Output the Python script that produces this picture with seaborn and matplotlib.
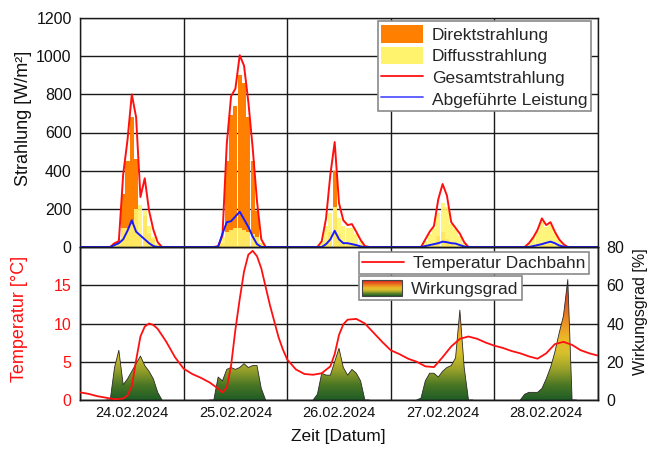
import numpy as np
import matplotlib
matplotlib.use("Agg")
import matplotlib.pyplot as plt
import seaborn as sns
from matplotlib.colors import LinearSegmentedColormap
from matplotlib.patches import Rectangle, Patch
from matplotlib.legend_handler import HandlerBase
from matplotlib.lines import Line2D

# ---------------- data ----------------
dates = ["24.02.2024", "25.02.2024", "26.02.2024", "27.02.2024", "28.02.2024"]
day_hours = [6, 7, 8, 9, 10, 11, 12, 13, 14, 15, 16, 17, 18, 19]

direkt = [
    [0, 0, 0, 10, 280, 450, 680, 460, 60, 160, 70, 40, 10, 0],
    [0, 0, 0, 20, 450, 690, 740, 900, 860, 680, 450, 190, 20, 0],
    [0, 0, 0, 20, 80, 400, 70, 30, 20, 20, 10, 0, 0, 0],
    [0, 0, 0, 0, 20, 60, 80, 40, 10, 0, 0, 0, 0, 0],
    [0, 0, 0, 0, 0, 15, 10, 15, 0, 0, 0, 0, 0, 0],
]
diffus = [
    [0, 0, 20, 40, 100, 100, 120, 200, 220, 190, 110, 50, 15, 0],
    [0, 0, 5, 50, 80, 90, 100, 100, 90, 80, 70, 50, 20, 0],
    [0, 0, 30, 110, 180, 210, 150, 110, 100, 100, 70, 30, 5, 0],
    [0, 0, 30, 70, 100, 180, 230, 210, 120, 95, 60, 20, 0, 0],
    [0, 0, 20, 50, 85, 130, 105, 115, 75, 38, 12, 0, 0, 0],
]
gesamt = [
    [0, 0, 20, 30, 380, 560, 800, 680, 262, 360, 190, 90, 25, 0],
    [0, 0, 5, 60, 540, 790, 830, 1005, 950, 760, 520, 240, 40, 0],
    [0, 0, 30, 150, 380, 550, 230, 140, 115, 120, 80, 37, 5, 0],
    [0, 0, 40, 80, 110, 250, 330, 270, 130, 100, 70, 25, 0, 0],
    [0, 0, 20, 50, 90, 150, 115, 130, 80, 40, 15, 0, 0, 0],
]
leistung = [
    [0, 0, 10, 20, 40, 85, 140, 80, 60, 40, 20, 5, 0, 0],
    [0, 0, 0, 70, 130, 135, 160, 185, 145, 105, 55, 15, 0, 0],
    [0, 0, 0, 15, 40, 85, 40, 20, 20, 15, 10, 3, 0, 0],
    [0, 0, 5, 10, 15, 20, 28, 25, 20, 18, 10, 3, 0, 0],
    [0, 0, 0, 5, 10, 15, 22, 28, 20, 8, 2, 0, 0, 0],
]
wirkungsgrad = [
    [0, 0, 17, 26, 8, 11, 15, 19, 23, 18, 15, 11, 4, 0],
    [0, 0, 12, 10, 16, 17, 16, 17, 19, 17, 18, 18, 6, 0],
    [0, 3, 14, 13, 13, 20, 27, 17, 13, 16, 14, 10, 0, 0],
    [0, 1, 10, 14, 14, 12, 15, 17, 18, 22, 47, 17, 0, 0],
    [0, 3, 4, 4, 4, 6, 11, 17, 25, 35, 44, 63, 0, 0],
]
# temperature readings (hours since 24.02. 00:00)
temp_hours = [
    0, 2, 4, 6, 8, 10, 11, 12, 13, 14, 15, 16, 17, 18, 20, 22,
    24, 26, 28, 30, 32, 33, 34, 35, 36, 37, 38, 39, 40, 41, 42, 43, 44, 46, 47,
    48, 50, 52, 54, 56, 58, 59, 60, 61, 62, 64, 66, 68, 70,
    72, 74, 76, 78, 80, 82, 84, 86, 88, 90, 92, 94,
    96, 98, 100, 102, 104, 106, 108, 110, 112, 114, 116, 118, 120,
]
temperatur = [
    1.0, 0.8, 0.5, 0.3, 0.1, 0.2, 0.6, 1.8, 5.2, 8.3, 9.6, 10.0, 9.8, 9.3, 7.6, 5.6,
    4.1, 3.4, 2.9, 2.3, 1.5, 1.0, 1.6, 4.5, 9.2, 13.2, 16.8, 19.0, 19.5, 18.8, 17.2, 14.8, 12.4, 8.2, 6.6,
    5.3, 4.0, 3.4, 3.3, 3.5, 4.4, 6.0, 8.5, 9.9, 10.5, 10.6, 10.0, 8.8, 7.6,
    6.5, 6.0, 5.4, 5.0, 4.4, 4.3, 5.6, 7.0, 8.0, 8.3, 8.0, 7.5,
    7.1, 6.8, 6.4, 6.1, 5.7, 5.4, 6.1, 7.3, 7.6, 7.2, 6.5, 6.1, 5.8,
]

# ---------------- style ----------------
sns.set_theme(style="white")
plt.rcParams["font.family"] = ["Liberation Sans", "DejaVu Sans"]

C_DIR = "#ff8000"
C_DIF = "#fff36e"
C_RED = "#ff1010"
C_BLUE = "#1a1aff"
GRID = "#1a1a1a"

grad_cmap = LinearSegmentedColormap.from_list("wg", [
    (0.00, "#1e5c26"), (0.12, "#4a7624"), (0.25, "#9aa22a"), (0.38, "#d6c02c"),
    (0.50, "#ecb828"), (0.65, "#eb8c22"), (0.82, "#e5501c"), (1.00, "#dc1c18")])

fig = plt.figure(figsize=(6.51, 4.5), dpi=100)
W, H = 651.0, 450.0
L, R = 80 / W, 598 / W
ax_top = fig.add_axes([L, 1 - 247 / H, R - L, (247 - 18) / H])
ax_bot = fig.add_axes([L, 1 - 400 / H, R - L, (400 - 247) / H])
ax_eff = ax_bot.twinx()

# ---------------- top chart ----------------
n_all = 121
t_all = np.arange(n_all)
ges_all = np.zeros(n_all)
lei_all = np.zeros(n_all)
for d in range(5):
    idx = [d * 24 + h for h in day_hours]
    ges_all[idx] = gesamt[d]
    lei_all[idx] = leistung[d]
    ax_top.bar(idx, direkt[d], width=0.95, color=C_DIR, edgecolor="none", zorder=2)
    ax_top.bar(idx, diffus[d], width=0.95, color=C_DIF, alpha=0.9, edgecolor="none", zorder=3)

sns.lineplot(x=t_all, y=ges_all, ax=ax_top, color=C_RED, linewidth=1.4, estimator=None, zorder=4)
sns.lineplot(x=t_all, y=lei_all, ax=ax_top, color=C_BLUE, linewidth=1.4, estimator=None, zorder=5)

ax_top.set_xlim(0, 120)
ax_top.set_ylim(0, 1200)
ax_top.set_yticks(range(0, 1201, 200))
ax_top.set_xticks(range(0, 121, 24))
ax_top.tick_params(axis="x", labelbottom=False, length=0)
ax_top.tick_params(axis="y", labelsize=11.5, length=0, pad=6, colors="#111111")
ax_top.grid(True, color=GRID, linewidth=1.0)
ax_top.set_axisbelow(True)
for s in ax_top.spines.values():
    s.set_color(GRID)
    s.set_linewidth(1.0)
ax_top.spines["bottom"].set_visible(False)
ax_top.set_ylabel("")

top_handles = [
    Patch(facecolor=C_DIR, edgecolor="none", label="Direktstrahlung"),
    Patch(facecolor=C_DIF, edgecolor="none", label="Diffusstrahlung"),
    Line2D([], [], color=C_RED, linewidth=1.3, label="Gesamtstrahlung"),
    Line2D([], [], color="#5555ff", linewidth=1.3, label="Abgeführte Leistung"),
]
leg1 = ax_top.legend(handles=top_handles, loc="upper left", bbox_to_anchor=(0.575, 0.985),
                     borderaxespad=0, fontsize=12.5, frameon=True, fancybox=False,
                     edgecolor="#8a8a8a", framealpha=1, handlelength=2.4, handleheight=1.2,
                     labelspacing=0.22, handletextpad=0.5, borderpad=0.2)
leg1.get_frame().set_linewidth(1.2)

# ---------------- bottom chart ----------------
ax_bot.set_zorder(ax_eff.get_zorder() + 1)
ax_bot.patch.set_visible(False)

ymax_grad = 64
grad = np.linspace(0, 1, 256).reshape(-1, 1)
for d in range(5):
    xs = np.array([d * 24 + h for h in day_hours], dtype=float)
    ys = np.array(wirkungsgrad[d], dtype=float)
    poly = ax_eff.fill_between(xs, 0, ys, facecolor="none", edgecolor="none")
    im = ax_eff.imshow(grad, extent=[xs[0], xs[-1], 0, ymax_grad], origin="lower",
                       aspect="auto", cmap=grad_cmap, vmin=0, vmax=1,
                       interpolation="bilinear", zorder=2)
    im.set_clip_path(poly.get_paths()[0], transform=ax_eff.transData)
    sns.lineplot(x=xs, y=ys, ax=ax_eff, color="#2a2a2a", linewidth=0.6, estimator=None, zorder=3)

ax_eff.set_xlim(0, 120)
ax_eff.set_ylim(0, 80)
ax_eff.set_yticks(range(0, 81, 20))
ax_eff.tick_params(axis="y", labelsize=11.5, length=0, pad=6, colors="#111111")
ax_eff.grid(True, axis="y", color=GRID, linewidth=1.0)
ax_eff.set_axisbelow(True)
ax_eff.set_ylabel("")

sns.lineplot(x=temp_hours, y=temperatur, ax=ax_bot, color=C_RED, linewidth=1.3, estimator=None, zorder=5)
ax_bot.set_xlim(0, 120)
ax_bot.set_ylim(0, 20)
ax_bot.set_yticks([0, 5, 10, 15])
ax_bot.tick_params(axis="y", labelsize=11.5, length=0, pad=6, colors=C_RED)
ax_bot.set_xticks([12 + 24 * d for d in range(5)])
ax_bot.set_xticklabels(dates, fontsize=10.5, color="#111111")
ax_bot.set_xticks(range(0, 121, 24), minor=True)
ax_bot.tick_params(axis="x", which="both", length=0, pad=4)
ax_bot.grid(False)
ax_bot.grid(True, which="minor", axis="x", color=GRID, linewidth=1.0)
ax_bot.set_ylabel("")
ax_bot.set_xlabel("")
for a in (ax_bot, ax_eff):
    for s in a.spines.values():
        s.set_color(GRID)
        s.set_linewidth(1.0)

class GradProxy(Rectangle):
    pass

class GradientHandler(HandlerBase):
    def create_artists(self, legend, orig_handle, xdescent, ydescent, width, height, fontsize, trans):
        n = 40
        arts = []
        for i in range(n):
            r = Rectangle((-xdescent, -ydescent + i * height / n), width, height / n * 1.05,
                          facecolor=grad_cmap(i / (n - 1)), edgecolor="none", transform=trans)
            arts.append(r)
        arts.append(Rectangle((-xdescent, -ydescent), width, height, fill=False,
                              edgecolor="#444444", linewidth=0.8, transform=trans))
        return arts

leg_t = ax_bot.legend(handles=[Line2D([], [], color=C_RED, linewidth=1.3, label="Temperatur Dachbahn")],
                      loc="upper left", bbox_to_anchor=(0.5386, 0.967), borderaxespad=0,
                      fontsize=12.5, frameon=True, fancybox=False, edgecolor="#8a8a8a",
                      framealpha=1, handlelength=2.4, handletextpad=0.5, borderpad=0.2)
leg_t.get_frame().set_linewidth(1.2)
gp = GradProxy((0, 0), 1, 1, label="Wirkungsgrad")
leg_e = ax_bot.legend(handles=[gp], handler_map={GradProxy: GradientHandler()},
                      loc="upper left", bbox_to_anchor=(0.5386, 0.81), borderaxespad=0,
                      fontsize=12.5, frameon=True, fancybox=False, edgecolor="#8a8a8a",
                      framealpha=1, handlelength=2.3, handleheight=1.1, handletextpad=0.5,
                      borderpad=0.2)
leg_e.get_frame().set_linewidth(1.2)
ax_bot.add_artist(leg_t)

# ---------------- axis titles ----------------
fig.text(24 / W, 1 - 118 / H, "Strahlung [W/m²]", rotation=90, ha="center", va="center",
         fontsize=13, color="#111111")
fig.text(20 / W, 1 - 319 / H, "Temperatur [°C]", rotation=90, ha="center", va="center",
         fontsize=13, color=C_RED)
fig.text(641 / W, 1 - 312 / H, "Wirkungsgrad [%]", rotation=90, ha="center", va="center",
         fontsize=11.5, color="#111111")
fig.text(338 / W, 1 - 437 / H, "Zeit [Datum]", ha="center", va="center",
         fontsize=12.5, color="#111111")

fig.savefig("out.png", dpi=100)
